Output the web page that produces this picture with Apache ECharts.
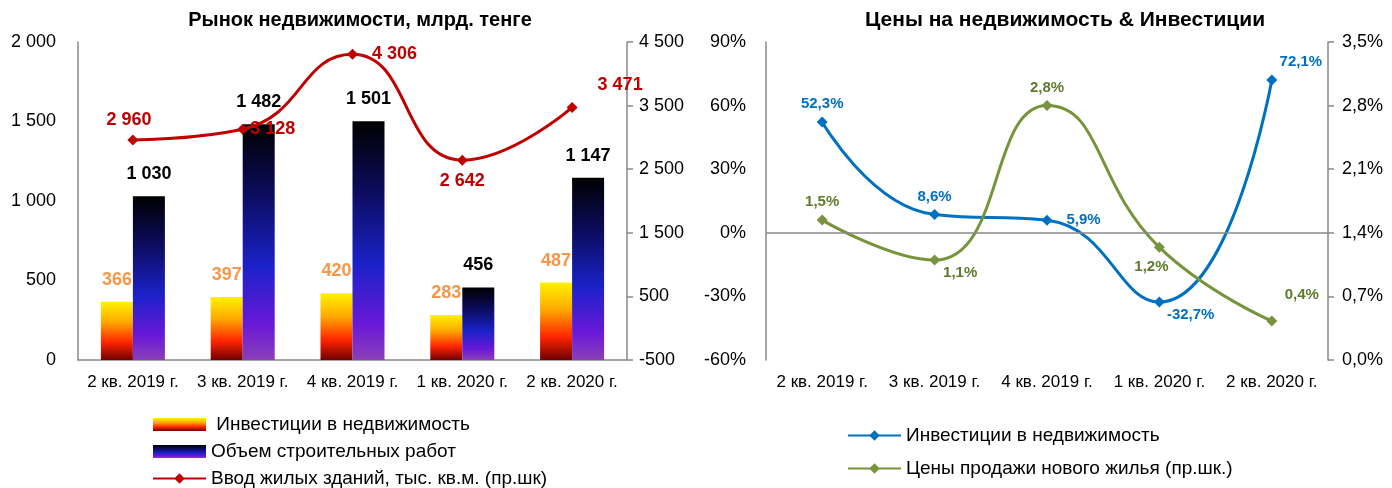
<!DOCTYPE html>
<html>
<head>
<meta charset="utf-8">
<title>Рынок недвижимости</title>
<script src="https://cdn.jsdelivr.net/npm/echarts@6/dist/echarts.min.js"></script>
<style>
  html, body { margin: 0; padding: 0; background: #fff; }
  #chart { width: 1392px; height: 488px; }
</style>
</head>
<body>
<div id="chart"></div>
<script>
// data
const quarters = ['2 кв. 2019 г.', '3 кв. 2019 г.', '4 кв. 2019 г.', '1 кв. 2020 г.', '2 кв. 2020 г.'];
const investments = [366, 397, 420, 283, 487];
const construction = [1030, 1482, 1501, 456, 1147];
const housingInput = [2960, 3128, 4306, 2642, 3471];
const housingTicks = [-500, 500, 1500, 2500, 3500, 4500];
const investGrowth = [52.3, 8.6, 5.9, -32.7, 72.1];
const priceGrowth = [1.54, 1.1, 2.8, 1.24, 0.43];

const FONT = 'Liberation Sans, Arial, sans-serif';
const AXIS_GRAY = '#898989';

const spaced = (v) => String(v).replace(/\B(?=(\d{3})+(?!\d))/g, ' ');
const pct1 = (v) => v.toFixed(1).replace('.', ',') + '%';

// label placement per point (style only)
const housingLabels = [
  { position: 'top', offset: [-4, 0] },
  { position: 'right', distance: 2 },
  { position: 'right', distance: 14 },
  { position: 'bottom', distance: 6 },
  { position: 'right', distance: 20, offset: [0, -22] },
];
const investLabels = [
  { position: 'top' },
  { position: 'top' },
  { position: 'right', distance: 14 },
  { position: 'right', distance: 2, offset: [0, 13] },
  { position: 'top', offset: [29, 0] },
];
const priceLabels = [
  { position: 'top' },
  { position: 'right', distance: 3, offset: [0, 13] },
  { position: 'top' },
  { position: 'bottom', offset: [-8, 2] },
  { position: 'top', offset: [30, -8] },
];

const withLabels = (values, labels) => values.map((v, i) => ({ value: v, label: labels[i] }));

const orangeFill = new echarts.graphic.LinearGradient(0, 0, 0, 1, [
  { offset: 0, color: '#FFF200' },
  { offset: 0.35, color: '#FFA800' },
  { offset: 0.7, color: '#FF2400' },
  { offset: 1, color: '#700000' },
]);
const blueFill = new echarts.graphic.LinearGradient(0, 0, 0, 1, [
  { offset: 0, color: '#000000' },
  { offset: 0.3, color: '#0C0C60' },
  { offset: 0.6, color: '#1A22C8' },
  { offset: 0.85, color: '#6A18D8' },
  { offset: 1, color: '#8A40B8' },
]);

const axisText = { color: '#000', fontFamily: FONT, fontSize: 17 };
const legendText = { color: '#000', fontFamily: FONT, fontSize: 19 };
const titleText = { fontFamily: FONT, fontSize: 20, fontWeight: 'bold', color: '#000' };

const chart = echarts.init(document.getElementById('chart'));

chart.setOption({
  animation: false,
  backgroundColor: '#fff',
  textStyle: { fontFamily: FONT },
  title: [
    {
      text: 'Рынок недвижимости, млрд. тенге',
      left: 355, top: 5, textAlign: 'center',
      textStyle: titleText,
    },
    {
      text: 'Цены на недвижимость & Инвестиции',
      left: 1060, top: 5, textAlign: 'center',
      textStyle: { ...titleText, fontSize: 21 },
    },
  ],
  legend: [
    {
      orient: 'vertical',
      left: 152, top: 415, height: 140, padding: 0,
      itemWidth: 53, itemHeight: 13, itemGap: 8,
      textStyle: legendText,
      data: [
        { name: ' Инвестиции в недвижимость', icon: 'rect' },
        { name: 'Объем строительных работ', icon: 'rect' },
        'Ввод жилых зданий, тыс. кв.м. (пр.шк)',
      ],
    },
    {
      orient: 'vertical',
      left: 847, top: 426, height: 140, padding: 0,
      itemWidth: 53, itemHeight: 13, itemGap: 14,
      textStyle: legendText,
      data: ['Инвестиции в недвижимость', 'Цены продажи нового жилья (пр.шк.)'],
    },
  ],
  grid: [
    { left: 78, right: 765, top: 42, bottom: 128 },
    { left: 766, right: 64, top: 42, bottom: 128 },
  ],
  xAxis: [
    {
      type: 'category', gridIndex: 0, data: quarters,
      axisLine: { lineStyle: { color: AXIS_GRAY, width: 1.5 } },
      axisTick: { show: false },
      axisLabel: { ...axisText, margin: 14, interval: 0 },
    },
    {
      type: 'category', gridIndex: 1, data: quarters,
      axisLine: { show: false },
      axisTick: { show: false },
      axisLabel: { ...axisText, margin: 14, interval: 0 },
    },
  ],
  yAxis: [
    {
      type: 'value', gridIndex: 0, position: 'left',
      min: 0, max: 2000, interval: 500,
      axisLine: { show: true, lineStyle: { color: AXIS_GRAY, width: 1.5 } },
      axisTick: { show: false },
      splitLine: { show: false },
      axisLabel: { ...axisText, fontSize: 18, margin: 22, formatter: spaced },
    },
    {
      type: 'value', gridIndex: 0, position: 'right',
      min: -500, max: 4500,
      axisLine: { show: true, lineStyle: { color: AXIS_GRAY, width: 1.5 } },
      axisTick: { show: true, length: 6, customValues: housingTicks, lineStyle: { color: AXIS_GRAY, width: 1.5 } },
      splitLine: { show: false },
      axisLabel: { ...axisText, fontSize: 18, margin: 12, customValues: housingTicks, formatter: spaced },
    },
    {
      type: 'value', gridIndex: 1, position: 'left',
      min: -60, max: 90, interval: 30,
      axisLine: { show: true, lineStyle: { color: AXIS_GRAY, width: 1.5 } },
      axisTick: { show: false },
      splitLine: { show: false },
      axisLabel: { ...axisText, fontSize: 18, margin: 20, formatter: '{value}%' },
    },
    {
      type: 'value', gridIndex: 1, position: 'right',
      min: 0, max: 3.5, interval: 0.7,
      axisLine: { show: true, lineStyle: { color: AXIS_GRAY, width: 1.5 } },
      axisTick: { show: true, length: 6, lineStyle: { color: AXIS_GRAY, width: 1.5 } },
      splitLine: { show: false },
      axisLabel: { ...axisText, fontSize: 18, margin: 14, formatter: pct1 },
    },
  ],
  series: [
    {
      name: ' Инвестиции в недвижимость',
      type: 'bar', xAxisIndex: 0, yAxisIndex: 0,
      data: investments,
      barWidth: 32, barGap: '0%',
      itemStyle: { color: orangeFill },
      label: {
        show: true, position: 'top', distance: 13,
        color: '#F79646', fontWeight: 'bold', fontSize: 18, fontFamily: FONT,
        formatter: (p) => spaced(p.value),
      },
    },
    {
      name: 'Объем строительных работ',
      type: 'bar', xAxisIndex: 0, yAxisIndex: 0,
      data: construction,
      barWidth: 32, barGap: '0%',
      itemStyle: { color: blueFill },
      label: {
        show: true, position: 'top', distance: 13,
        color: '#000', fontWeight: 'bold', fontSize: 18, fontFamily: FONT,
        formatter: (p) => spaced(p.value),
      },
    },
    {
      name: 'Ввод жилых зданий, тыс. кв.м. (пр.шк)',
      type: 'line', xAxisIndex: 0, yAxisIndex: 1,
      data: withLabels(housingInput, housingLabels),
      smooth: 0.5,
      symbol: 'diamond', symbolSize: 11,
      lineStyle: { color: '#C00000', width: 3 },
      itemStyle: { color: '#C00000' },
      label: {
        show: true,
        color: '#C00000', fontWeight: 'bold', fontSize: 18, fontFamily: FONT,
        formatter: (p) => spaced(p.value),
      },
    },
    {
      name: 'Инвестиции в недвижимость',
      type: 'line', xAxisIndex: 1, yAxisIndex: 2,
      data: withLabels(investGrowth, investLabels),
      smooth: 0.5,
      symbol: 'diamond', symbolSize: 11,
      lineStyle: { color: '#0070C0', width: 3 },
      itemStyle: { color: '#0070C0' },
      label: {
        show: true,
        color: '#0070C0', fontWeight: 'bold', fontSize: 15, fontFamily: FONT,
        formatter: (p) => pct1(p.value),
      },
      markLine: {
        silent: true,
        symbol: 'none',
        label: { show: false },
        lineStyle: { color: AXIS_GRAY, width: 1.5, type: 'solid' },
        data: [{ yAxis: 0 }],
      },
    },
    {
      name: 'Цены продажи нового жилья (пр.шк.)',
      type: 'line', xAxisIndex: 1, yAxisIndex: 3,
      data: withLabels(priceGrowth, priceLabels),
      smooth: 0.5,
      symbol: 'diamond', symbolSize: 11,
      lineStyle: { color: '#77933C', width: 3 },
      itemStyle: { color: '#77933C' },
      label: {
        show: true,
        color: '#5F7A2C', fontWeight: 'bold', fontSize: 15, fontFamily: FONT,
        formatter: (p) => pct1(p.value),
      },
    },
  ],
});

window.addEventListener('resize', () => chart.resize());
</script>
</body>
</html>
